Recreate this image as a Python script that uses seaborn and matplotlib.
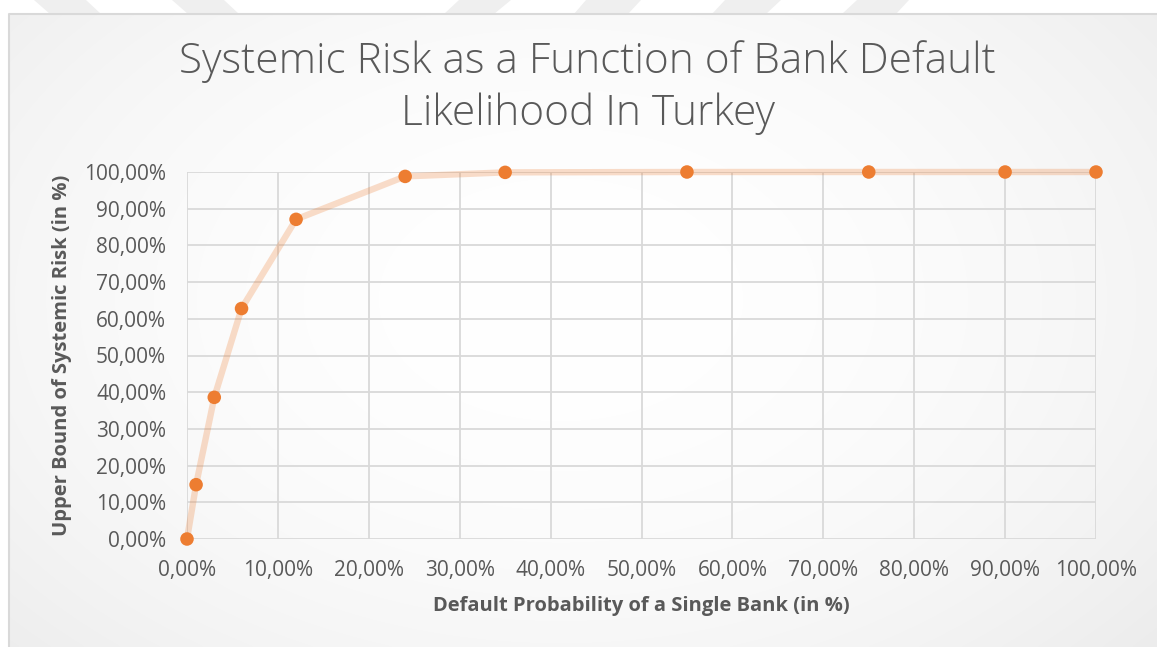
import numpy as np
import pandas as pd
import matplotlib
matplotlib.use("Agg")
import matplotlib.pyplot as plt
import seaborn as sns
from matplotlib.ticker import FuncFormatter, FixedLocator
from matplotlib.patches import Polygon

# Default probability of a single bank (%) and the matching upper bound of systemic risk (%)
default_prob = [0, 1, 3, 6, 12, 24, 35, 55, 75, 90, 100]
systemic_risk = [0.0, 14.8, 38.6, 62.8, 87.1, 98.8, 99.9, 100.0, 100.0, 100.0, 100.0]

x_ticks = [0, 10, 20, 30, 40, 50, 60, 70, 80, 90, 100]
y_ticks = [0, 10, 20, 30, 40, 50, 60, 70, 80, 90, 100]

title_lines = ["Systemic Risk as a Function of Bank Default", "Likelihood In Turkey"]
x_label = "Default Probability of a Single Bank (in %)"
y_label = "Upper Bound of Systemic Risk (in %)"

df = pd.DataFrame({"prob": default_prob, "risk": systemic_risk})

sns.set_theme(style="whitegrid")
plt.rcParams["font.family"] = ["Open Sans", "DejaVu Sans"]

W, H = 1157, 647
fig = plt.figure(figsize=(W / 100, H / 100), dpi=100)
fig.patch.set_facecolor("white")

# faint diagonal stripes along the top edge of the page
stripe_color = "#efefef"
for (t0, t1, b0, b1) in [(34, 86, 50, 101), (172, 224, 188, 239),
                         (459, 511, 444, 494), (586, 641, 574, 628),
                         (725, 781, 712, 766), (857, 909, 842, 896)]:
    fig.patches.append(Polygon([(t0 / W, 1), (t1 / W, 1), (b1 / W, 1 - 14 / H), (b0 / W, 1 - 14 / H)],
                               closed=True, transform=fig.transFigure,
                               facecolor=stripe_color, edgecolor="none", zorder=0))

# chart area with a soft radial shading
bg = fig.add_axes([9 / W, 0, 1 - 9 / W, 1 - 14 / H], zorder=0)
gh, gw = 320, 580
yy, xx = np.mgrid[0:gh, 0:gw]
r = np.sqrt(((xx - gw * 0.48) / (gw * 0.62)) ** 2 + ((yy - gh * 0.45) / (gh * 0.75)) ** 2)
shade = 1.0 - 0.06 * np.clip(r, 0, 1.3) ** 2
bg.imshow(np.dstack([shade] * 3), aspect="auto", extent=[0, 1, 0, 1], interpolation="bilinear")
bg.set_xlim(0, 1)
bg.set_ylim(0, 1)
bg.axis("off")
fig.add_artist(plt.Line2D([9 / W, 9 / W, 1], [0, 1 - 14 / H, 1 - 14 / H],
                          transform=fig.transFigure, color="#d9d9d9", lw=1.5))

ax = fig.add_axes([187 / W, 1 - 539 / H, (1096 - 187) / W, (539 - 172) / H], zorder=2)
ax.set_facecolor("none")

sns.lineplot(data=df, x="prob", y="risk", ax=ax, color="#ED7D31", alpha=0.26,
             linewidth=4.6, solid_capstyle="round", zorder=2, clip_on=False)
sns.scatterplot(data=df, x="prob", y="risk", ax=ax, color="#ED7D31", s=95,
                edgecolor="none", linewidth=0, zorder=3, clip_on=False)

ax.set_xlim(0, 100)
ax.set_ylim(0, 100)
ax.xaxis.set_major_locator(FixedLocator(x_ticks))
ax.yaxis.set_major_locator(FixedLocator(y_ticks))
pct = FuncFormatter(lambda v, _: f"{v:.2f}%".replace(".", ","))
ax.xaxis.set_major_formatter(pct)
ax.yaxis.set_major_formatter(pct)
ax.grid(True, color="#d9d9d9", linewidth=1.3)
for s in ax.spines.values():
    s.set_visible(False)
ax.tick_params(axis="both", length=0, labelsize=15, labelcolor="#595959")
ax.tick_params(axis="y", pad=15)
ax.tick_params(axis="x", pad=15)

ax.set_xlabel(x_label, fontsize=14.5, fontweight="bold", color="#595959", labelpad=11)
ax.set_ylabel(y_label, fontsize=14.5, fontweight="bold", color="#595959", labelpad=9)

for line, yc in zip(title_lines, [62, 114]):
    fig.text(0.508, 1 - yc / H, line, ha="center", va="center", fontsize=30.5,
             color="#595959", fontweight="light")

fig.savefig("out.png", dpi=100, facecolor=fig.get_facecolor())
